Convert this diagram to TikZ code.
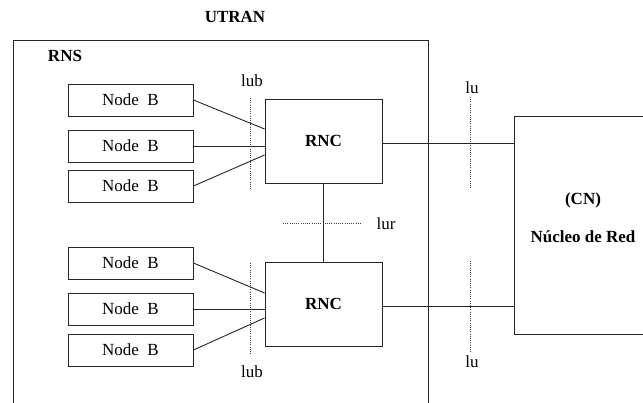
\documentclass[tikz,border=0pt]{standalone}
\usepackage{fontspec}
\setmainfont{Liberation Serif}
\usetikzlibrary{calc}

\begin{document}
\begin{tikzpicture}[
    x=1pt, y=-1pt,
    line width=0.9pt,
    nodeb/.style={rectangle, draw=black!85, minimum width=125pt, minimum height=32pt, inner sep=0pt, font=\fontsize{17}{20}\selectfont},
    rnc/.style={rectangle, draw=black!85, minimum width=117pt, minimum height=84pt, inner sep=0pt, font=\fontsize{17}{20}\selectfont\bfseries},
    frame/.style={rectangle, draw=black!85, inner sep=0pt},
    lbl/.style={inner sep=0pt, font=\fontsize{17}{20}\selectfont},
    blbl/.style={inner sep=0pt, font=\fontsize{17}{20}\selectfont\bfseries},
    link/.style={draw=black!85},
    iface/.style={draw=black!75, dash pattern=on 0.9pt off 1.3pt}
]
\path[use as bounding box, clip] (0,0) rectangle (643,403);

% UTRAN and core network frames
\node[frame, minimum width=415pt, minimum height=420pt] (utran) at (220.5,250) {};
\node[frame, minimum width=140pt, minimum height=218pt] (cn) at (584,225) {};

% Titles
\node[blbl] (utrantxt) at (235,16.5) {UTRAN};
\node[blbl] (rnstxt) at (65,56) {RNS};
\node[blbl] (cntxt) at (583,200) {(CN)};
\node[blbl] (nucleo) at (583,237) {Núcleo de Red};

% Node B
\node[nodeb] (nb1) at (130.5,100) {Node\ \ B};
\node[nodeb] (nb2) at (130.5,146) {Node\ \ B};
\node[nodeb] (nb3) at (130.5,186) {Node\ \ B};
\node[nodeb] (nb4) at (130.5,263) {Node\ \ B};
\node[nodeb] (nb5) at (130.5,309) {Node\ \ B};
\node[nodeb] (nb6) at (130.5,350) {Node\ \ B};

% RNC
\node[rnc] (rnc1) at (323.5,141) {RNC};
\node[rnc] (rnc2) at (323.5,304) {RNC};

% Links
\coordinate (r1in) at ($(rnc1.west)+(0,-12)$);
\coordinate (r1out) at ($(rnc1.west)+(0,14)$);
\coordinate (r2in) at ($(rnc2.west)+(0,-11)$);
\coordinate (r2out) at ($(rnc2.west)+(0,14)$);
\coordinate (r1e) at ($(rnc1.east)+(0,2)$);
\coordinate (r2e) at ($(rnc2.east)+(0,2)$);
\draw[link] (nb1.east) -- (r1in);
\draw[link] (nb2.east) -- (nb2.east -| rnc1.west);
\draw[link] (nb3.east) -- (r1out);
\draw[link] (nb4.east) -- (r2in);
\draw[link] (nb5.east) -- (nb5.east -| rnc2.west);
\draw[link] (nb6.east) -- (r2out);
\draw[link] (rnc1.south) -- (rnc2.north);
\draw[link] (r1e) -- (r1e -| cn.west);
\draw[link] (r2e) -- (r2e -| cn.west);

% Interfaces
\node[lbl] (lub1) at (252,81) {lub};
\node[lbl] (lub2) at (252,372) {lub};
\node[lbl] (lu1) at (472,88) {lu};
\node[lbl] (lu2) at (472,362) {lu};
\node[lbl] (lur) at (386,224) {lur};
\coordinate (lub1a) at (250,98);
\coordinate (lub1b) at (250,190);
\coordinate (lub2a) at (250,263);
\coordinate (lub2b) at (250,355);
\coordinate (lu1a) at (470,97);
\coordinate (lu1b) at (470,189);
\coordinate (lu2a) at (470,261);
\coordinate (lu2b) at (470,353);
\coordinate (lura) at (283,223);
\coordinate (lurb) at (362,223);
\draw[iface] (lub1a) -- (lub1b);
\draw[iface] (lub2a) -- (lub2b);
\draw[iface] (lu1a) -- (lu1b);
\draw[iface] (lu2a) -- (lu2b);
\draw[iface] (lura) -- (lurb);

\end{tikzpicture}
\end{document}
